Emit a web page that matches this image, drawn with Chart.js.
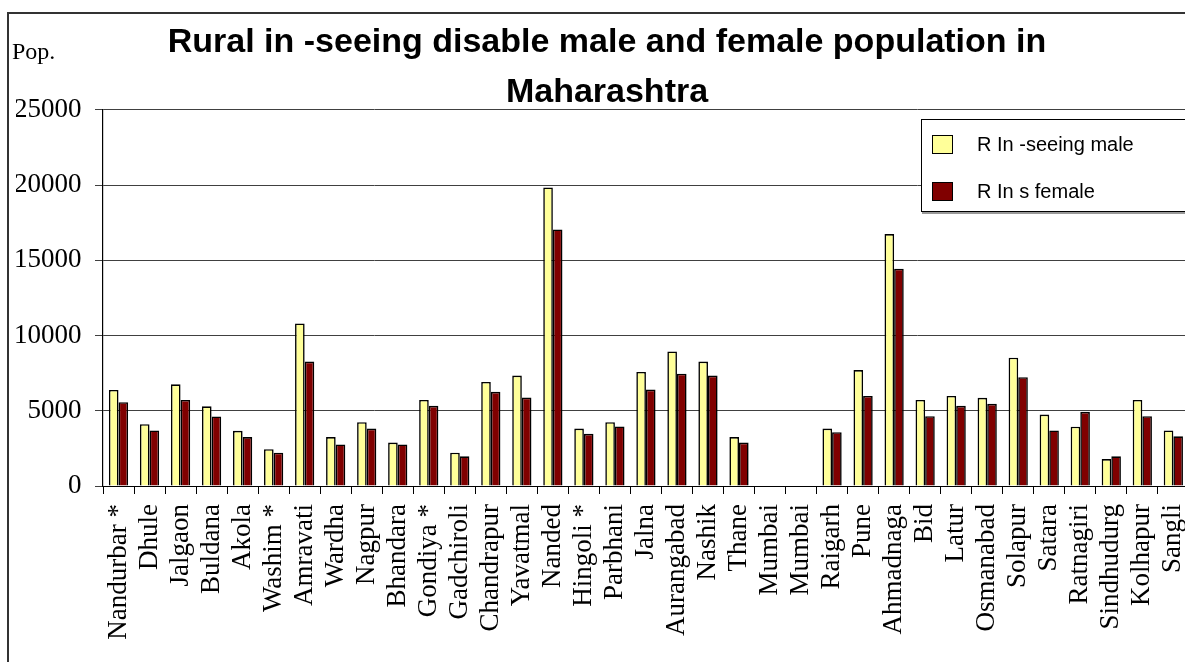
<!DOCTYPE html>
<html>
<head>
<meta charset="utf-8">
<script src="https://cdn.jsdelivr.net/npm/chart.js@4.4.0/dist/chart.umd.min.js"></script>
<style>
    html, body { margin: 0; padding: 0; background: #fff; overflow: hidden; }
    #wrap { position: relative; width: 1216px; height: 662px; }
    #frame { position: absolute; left: 7px; top: 12px; width: 1300px; height: 700px;
             border-left: 2px solid #333; border-top: 2px solid #333; }
    #pop { position: absolute; left: 12px; top: 39px; font: 24px "Liberation Serif"; line-height: 1; color: #000; }
    #legend { position: absolute; left: 921px; top: 119px; width: 320px; height: 91px;
              border: 1px solid #000; background: #fff; box-shadow: 1px 2px 0 #999; }
    .item { position: absolute; left: 10px; height: 20px; display: flex; align-items: center;
            font: 20px "Liberation Sans"; color: #000; white-space: nowrap; }
    .swatch { width: 19px; height: 17px; border: 1.5px solid #000; margin-right: 24px; }
    canvas { position: absolute; left: 0; top: 0; }
</style>
</head>
<body>
<div id="wrap">
    <div id="frame"></div>
    <canvas id="chart" width="1216" height="662"></canvas>
    <div id="pop">Pop.</div>
    <div id="legend"></div>
</div>
<script>
// data
const districts = ['Nandurbar *', 'Dhule', 'Jalgaon', 'Buldana', 'Akola', 'Washim *', 'Amravati',
    'Wardha', 'Nagpur', 'Bhandara', 'Gondiya *', 'Gadchiroli', 'Chandrapur', 'Yavatmal', 'Nanded',
    'Hingoli *', 'Parbhani', 'Jalna', 'Aurangabad', 'Nashik', 'Thane', 'Mumbai', 'Mumbai', 'Raigarh',
    'Pune', 'Ahmadnaga', 'Bid', 'Latur', 'Osmanabad', 'Solapur', 'Satara', 'Ratnagiri', 'Sindhudurg',
    'Kolhapur', 'Sangli'];
const maleValues = [6390, 4110, 6760, 5300, 3670, 2450, 10810, 3250, 4240, 2890, 5720, 2210, 6920,
    7340, 19850, 3820, 4240, 7580, 8950, 8270, 3250, 0, 0, 3820, 7710, 16750, 5720, 5990, 5860,
    8530, 4750, 3940, 1790, 5720, 3690];
const femaleValues = [5570, 3690, 5720, 4620, 3250, 2210, 8270, 2760, 3820, 2760, 5330, 1970, 6260,
    5880, 17060, 3470, 3960, 6410, 7470, 7340, 2890, 0, 0, 3580, 5990, 14450, 4640, 5330, 5460,
    7230, 3690, 4930, 1970, 4640, 3300];
const seriesNames = ['R In -seeing male', 'R In s female'];
const seriesColors = ['#FFFF99', '#800000'];
const titleLines = ['Rural in -seeing disable male and female population in', 'Maharashtra'];
const yTicks = [0, 5000, 10000, 15000, 20000, 25000];

const serif = 'Liberation Serif';

const ctx = document.getElementById('chart').getContext('2d');
const chart = new Chart(ctx, {
    type: 'bar',
    data: {
        labels: districts,
        datasets: [maleValues, femaleValues].map((vals, i) => ({
            label: seriesNames[i],
            data: vals,
            backgroundColor: seriesColors[i],
            borderColor: '#000',
            borderWidth: 1.6,
            categoryPercentage: 0.62,
            barPercentage: 1.0
        }))
    },
    options: {
        responsive: false,
        animation: false,
        devicePixelRatio: 1,
        layout: { padding: { left: 16, right: 18, top: 0, bottom: 0 } },
        plugins: {
            legend: { display: false },
            tooltip: { enabled: false },
            title: {
                display: true,
                text: titleLines,
                color: '#000',
                font: { family: 'Liberation Sans', size: 34, weight: 'bold', lineHeight: 1.47 },
                padding: { top: 18, bottom: -8 }
            }
        },
        scales: {
            x: {
                afterFit: s => { s.height = 176; },
                grid: { display: true, drawOnChartArea: false, tickLength: 8, color: '#000', offset: true },
                border: { color: '#000', width: 1 },
                ticks: {
                    autoSkip: false, minRotation: 90, maxRotation: 90, padding: 10,
                    color: '#000', font: { family: serif, size: 27 }
                }
            },
            y: {
                min: 0,
                max: 25000,
                afterFit: s => { s.width = 87; },
                afterBuildTicks: s => { s.ticks = yTicks.map(v => ({ value: v })); },
                grid: { color: '#404040', lineWidth: 1, tickLength: 8 },
                border: { color: '#000', width: 1.2 },
                ticks: {
                    padding: 13.5, color: '#000',
                    font: { family: serif, size: 27 },
                    callback: v => String(v)
                }
            }
        }
    }
});

// legend box, built from the datasets
const legendEl = document.getElementById('legend');
chart.data.datasets.forEach((ds, i) => {
    const item = document.createElement('div');
    item.className = 'item';
    item.style.top = (14 + i * 47) + 'px';
    item.innerHTML = '<span class="swatch" style="background:' + ds.backgroundColor + '"></span>' + ds.label;
    legendEl.appendChild(item);
});
</script>
</body>
</html>
